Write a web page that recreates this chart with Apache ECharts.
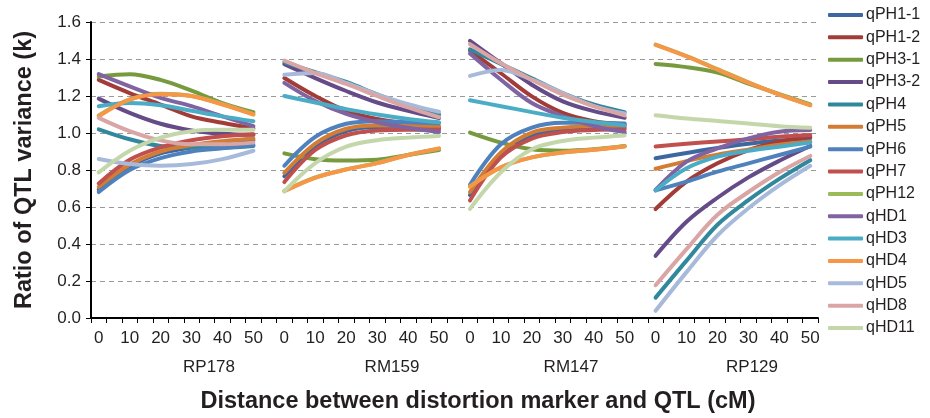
<!DOCTYPE html>
<html>
<head>
<meta charset="utf-8">
<script src="https://cdn.jsdelivr.net/npm/echarts@6/dist/echarts.min.js"></script>
<style>
html,body{margin:0;padding:0;background:#fff;}
#chart{width:930px;height:418px;}
</style>
</head>
<body>
<div id="chart"></div>
<script>
// ---- data ----
const groups = ['RP178', 'RM159', 'RM147', 'RP129'];
const distances = [0, 5, 10, 15, 20, 25, 30, 35, 40, 45, 50];
const pointDistances = [0, 10, 20, 30, 40, 50];
const xTickLabels = ['0', '10', '20', '30', '40', '50'];
const seriesNames = ['qPH1-1', 'qPH1-2', 'qPH3-1', 'qPH3-2', 'qPH4', 'qPH5', 'qPH6', 'qPH7', 'qPH12', 'qHD1', 'qHD3', 'qHD4', 'qHD5', 'qHD8', 'qHD11'];

// each: RP178 (0..50), RM159 (0..50), RM147 (0..50), RP129 (0..50)
const qPH1_1 = [0.695, 0.82, 0.89, 0.922, 0.943, 0.961,  0.766, 0.929, 1.01, 1.032, 1.032, 1.028,  0.665, 0.886, 0.987, 1.016, 1.023, 1.029,  0.864, 0.892, 0.919, 0.942, 0.959, 0.972];
const qPH1_2 = [1.287, 1.216, 1.154, 1.09, 1.055, 1.025,  1.297, 1.2, 1.12, 1.076, 1.05, 1.032,  1.445, 1.323, 1.198, 1.109, 1.064, 1.046,  0.589, 0.737, 0.836, 0.908, 0.953, 0.98];
const qPH3_1 = [1.305, 1.318, 1.287, 1.229, 1.162, 1.112,  0.89, 0.858, 0.851, 0.855, 0.881, 0.908,  1.002, 0.948, 0.912, 0.904, 0.912, 0.93,  1.373, 1.356, 1.326, 1.267, 1.21, 1.154];
const qPH3_2 = [1.186, 1.109, 1.05, 1.014, 0.996, 0.99,  1.372, 1.297, 1.227, 1.165, 1.12, 1.081,  1.498, 1.377, 1.261, 1.171, 1.118, 1.082,  0.336, 0.52, 0.65, 0.76, 0.85, 0.93];
const qPH4   = [1.02, 0.966, 0.93, 0.921, 0.921, 0.93,  1.382, 1.329, 1.276, 1.209, 1.147, 1.1,  1.452, 1.373, 1.296, 1.216, 1.154, 1.113,  0.11, 0.31, 0.504, 0.637, 0.752, 0.853];
const qPH5   = [0.708, 0.828, 0.9, 0.935, 0.956, 0.97,  0.784, 0.943, 1.023, 1.041, 1.041, 1.035,  0.68, 0.895, 1.002, 1.029, 1.038, 1.038,  0.807, 0.848, 0.883, 0.91, 0.936, 0.954];
const qPH6   = [0.681, 0.80, 0.864, 0.9, 0.917, 0.935,  0.823, 0.979, 1.05, 1.064, 1.058, 1.053,  0.72, 0.939, 1.029, 1.055, 1.055, 1.052,  0.69, 0.737, 0.791, 0.836, 0.881, 0.926];
const qPH7   = [0.727, 0.855, 0.922, 0.961, 0.982, 0.993,  0.735, 0.908, 0.988, 1.014, 1.018, 1.018,  0.635, 0.868, 0.97, 1.005, 1.016, 1.02,  0.927, 0.942, 0.954, 0.966, 0.98, 0.989];
const qPH12  = [1.095, 1.182, 1.212, 1.2, 1.156, 1.102,  0.688, 0.76, 0.804, 0.838, 0.882, 0.915,  0.712, 0.815, 0.868, 0.895, 0.91, 0.928,  1.478, 1.416, 1.345, 1.274, 1.208, 1.152];
const qHD1   = [1.318, 1.252, 1.19, 1.145, 1.09, 1.037,  1.271, 1.173, 1.103, 1.058, 1.028, 1.005,  1.43, 1.288, 1.162, 1.091, 1.038, 1.005,  0.692, 0.845, 0.917, 0.971, 1.007, 1.016];
const qHD3   = [1.145, 1.162, 1.15, 1.12, 1.09, 1.064,  1.2, 1.165, 1.129, 1.1, 1.076, 1.058,  1.177, 1.145, 1.113, 1.082, 1.059, 1.041,  0.69, 0.809, 0.872, 0.904, 0.926, 0.948];
const qHD4   = [1.09, 1.18, 1.21, 1.2, 1.154, 1.10,  0.685, 0.758, 0.802, 0.837, 0.881, 0.917,  0.71, 0.814, 0.868, 0.895, 0.909, 0.927,  1.476, 1.414, 1.343, 1.272, 1.207, 1.149];
const qHD5   = [0.859, 0.832, 0.823, 0.832, 0.859, 0.904,  1.315, 1.324, 1.271, 1.209, 1.156, 1.115,  1.309, 1.341, 1.288, 1.216, 1.145, 1.105,  0.039, 0.248, 0.446, 0.593, 0.717, 0.823];
const qHD8   = [1.082, 1.01, 0.96, 0.939, 0.939, 0.948,  1.391, 1.324, 1.265, 1.2, 1.138, 1.085,  1.48, 1.377, 1.288, 1.207, 1.145, 1.095,  0.177, 0.372, 0.558, 0.681, 0.788, 0.876];
const qHD11  = [0.787, 0.904, 0.975, 1.01, 1.018, 1.018,  0.685, 0.837, 0.926, 0.961, 0.975, 0.984,  0.59, 0.788, 0.912, 0.957, 0.975, 0.987,  1.096, 1.078, 1.065, 1.051, 1.037, 1.028];

const seriesValues = [qPH1_1, qPH1_2, qPH3_1, qPH3_2, qPH4, qPH5, qPH6, qPH7, qPH12, qHD1, qHD3, qHD4, qHD5, qHD8, qHD11];
const colors = ['#3D67A0', '#A23C39', '#779A3E', '#654B87', '#31889C', '#D27C35', '#4F81BD', '#C0504D', '#9BBB59', '#8064A2', '#4BACC6', '#F79646', '#A8BADA', '#DAA6A5', '#C4D7AA'];

// ---- build categories ----
const categories = [];
const catDist = [];
groups.forEach((g, gi) => {
  distances.forEach(d => { categories.push(g + '|' + d); catDist.push(d); });
  if (gi < groups.length - 1) { categories.push('gap' + gi); catDist.push(null); }
});
const perGroup = distances.length + 1;

function buildData(vals) {
  const out = [];
  groups.forEach((g, gi) => {
    pointDistances.forEach((d, k) => {
      const idx = gi * perGroup + distances.indexOf(d);
      out.push([idx, vals[gi * pointDistances.length + k]]);
    });
    if (gi < groups.length - 1) out.push([gi * perGroup + distances.length, null]);
  });
  return out;
}

const GRID_LEFT = 91, GRID_RIGHT = 112, GRID_TOP = 22, GRID_BOTTOM = 100;
const groupLabelX = [209, 392, 571, 752];
const xTitle = 'Distance between distortion marker and QTL (cM)';

const chart = echarts.init(document.getElementById('chart'), null, {renderer: 'canvas'});
const font = '"Liberation Sans", Arial, Helvetica, sans-serif';

const option = {
  animation: false,
  textStyle: {fontFamily: font},
  color: colors,
  grid: {left: GRID_LEFT, right: GRID_RIGHT, top: GRID_TOP, bottom: GRID_BOTTOM, containLabel: false},
  legend: {
    orient: 'vertical',
    left: 828,
    top: 7,
    padding: 0,
    icon: 'roundRect',
    itemWidth: 35,
    itemHeight: 4,
    itemGap: 6.36,
    data: seriesNames,
    textStyle: {fontSize: 16, color: '#231f20', fontFamily: font, lineHeight: 16, padding: [0, 0, 0, -2]}
  },
  xAxis: {
    type: 'category',
    data: categories,
    boundaryGap: true,
    axisLine: {lineStyle: {color: '#000', width: 2}},
    axisTick: {show: true, interval: 0, length: 5, lineStyle: {color: '#000', width: 1}},
    axisLabel: {
      interval: (i) => catDist[i] !== null && xTickLabels.indexOf(String(catDist[i])) >= 0,
      formatter: (v, i) => String(catDist[i]),
      fontSize: 17, color: '#231f20', margin: 12, fontFamily: font
    },
    splitLine: {show: false}
  },
  yAxis: {
    type: 'value',
    min: 0, max: 1.6, interval: 0.2,
    axisLine: {show: true, lineStyle: {color: '#000', width: 2}},
    axisTick: {show: true, length: 5, lineStyle: {color: '#000'}},
    axisLabel: {formatter: v => v.toFixed(1), fontSize: 17, color: '#231f20', margin: 10, fontFamily: font},
    splitLine: {show: true, lineStyle: {color: '#9a9a9a', type: [5, 4], width: 1}},
    name: 'Ratio of QTL variance (k)',
    nameLocation: 'middle',
    nameGap: 54,
    nameTextStyle: {fontSize: 23.5, fontWeight: 'bold', color: '#231f20', fontFamily: font}
  },
  graphic: groups.map((g, i) => ({
    type: 'text',
    x: groupLabelX[i],
    y: 367,
    style: {text: g, fill: '#231f20', font: '17px ' + font, textAlign: 'center', textVerticalAlign: 'middle'}
  })).concat([{
    type: 'text',
    x: 478,
    y: 402,
    style: {text: xTitle, fill: '#231f20', font: 'bold 23.5px ' + font, textAlign: 'center', textVerticalAlign: 'middle'}
  }]),
  series: seriesNames.map((n, i) => ({
    name: n,
    type: 'line',
    data: buildData(seriesValues[i]),
    smooth: 0.35,
    showSymbol: false,
    symbol: 'none',
    connectNulls: false,
    lineStyle: {width: 4, color: colors[i], cap: 'round'},
    itemStyle: {color: colors[i]}
  }))
};
chart.setOption(option);
</script>
</body>
</html>
